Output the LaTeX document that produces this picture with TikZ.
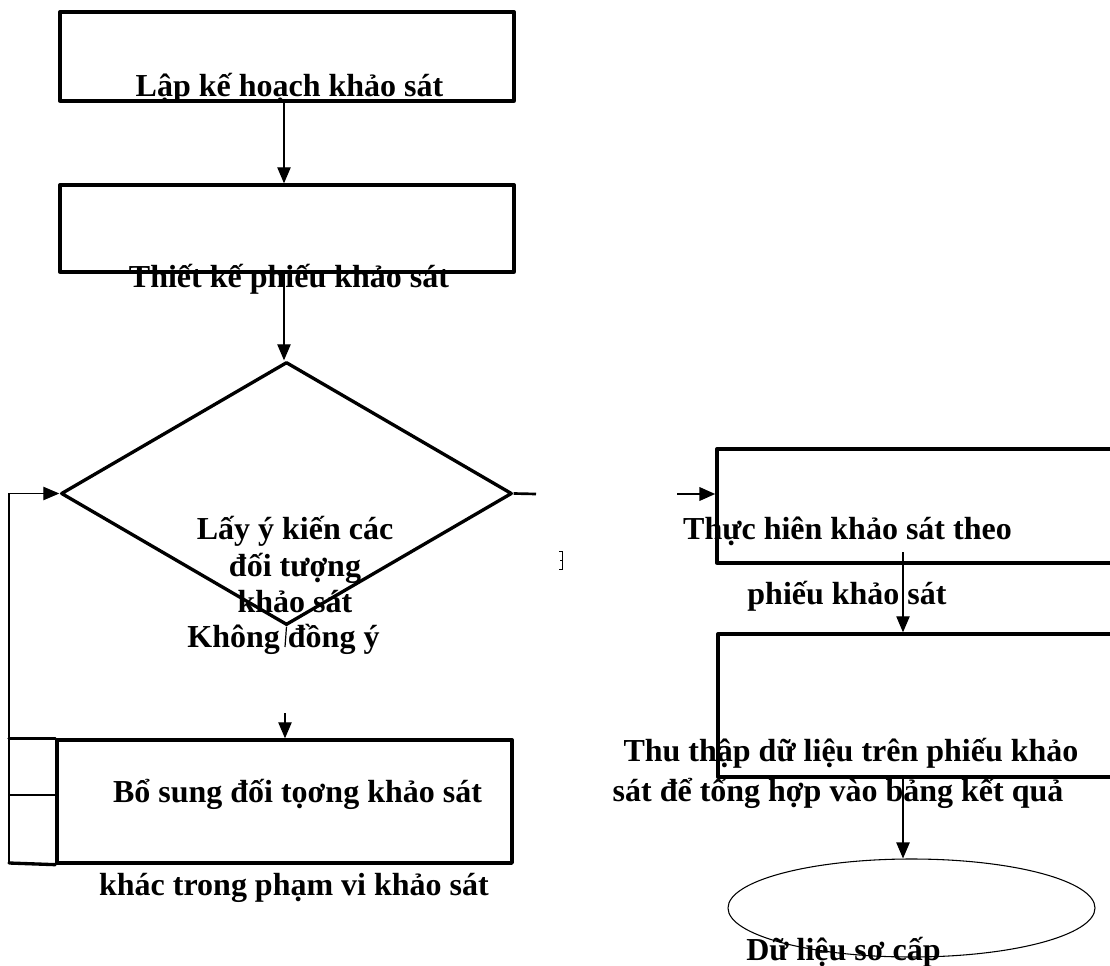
\documentclass[tikz,border=0pt]{standalone}
\usepackage{fontspec}
\setmainfont{Liberation Serif}
\usetikzlibrary{shapes.geometric,arrows.meta}

\begin{document}
\begin{tikzpicture}[x=0.75pt,y=0.75pt,yscale=-1,xscale=1,
  stepbox/.style={draw, line width=2.5pt, line join=round, inner sep=0pt},
  heavy/.style={line width=2.5pt, line cap=round},
  thinline/.style={line width=0.9pt},
  arr/.style={line width=0.9pt, -{Triangle[length=12pt,width=10pt]}},
  lbl/.style={anchor=base, inner sep=0pt, font=\fontsize{24pt}{28pt}\selectfont\bfseries}]
  \useasboundingbox (0,0) rectangle (1110,966);

  % Text Node
  \node[lbl] (plantxt) at (289.5,97) {Lập kế hoạch khảo sát};
  % Text Node
  \node[lbl] (designtxt) at (289,288) {Thiết kế phiếu khảo sát};
  % Text Node
  \node[lbl] (asktxta) at (295,539) {Lấy ý kiến các};
  \node[lbl] (asktxtb) at (295,576) {đối tượng};
  \node[lbl] (asktxtc) at (295,612) {khảo sát};
  % Text Node
  \node[lbl] (notxt) at (283.5,647) {Không đồng ý};
  % Text Node
  \node[lbl] (extratxta) at (297.5,802) {Bổ sung đối tọơng khảo sát};
  \node[lbl] (extratxtb) at (294,895) {khác trong phạm vi khảo sát};
  % Text Node
  \node[lbl] (surveytxta) at (847.5,539) {Thực hiên khảo sát theo};
  \node[lbl] (surveytxtb) at (847,604) {phiếu khảo sát};
  % Text Node
  \node[lbl] (collecttxta) at (851,761) {Thu thập dữ liệu trên phiếu khảo};
  \node[lbl] (collecttxtb) at (838,801) {sát để tổng hợp vào bảng kết quả};
  % Text Node
  \node[lbl] (datatxt) at (843.5,960) {Dữ liệu sơ cấp};

  %Shape: Rectangle
  \node[stepbox, minimum width=340.5pt, minimum height=66.75pt] (plan) at (287,56.5) {};
  %Shape: Rectangle
  \node[stepbox, minimum width=340.5pt, minimum height=65.25pt] (design) at (287,228.5) {};
  %Shape: Diamond
  \node[stepbox, diamond, minimum width=338.25pt, minimum height=197.25pt] (ask) at (286.5,493.5) {};
  %Shape: Rectangle
  \node[stepbox, minimum width=341.25pt, minimum height=92.25pt] (extra) at (284.5,801.5) {};
  %Shape: Rectangle
  \node[stepbox, minimum width=306pt, minimum height=85.5pt] (survey) at (921,506) {};
  %Shape: Rectangle
  \node[stepbox, minimum width=305.25pt, minimum height=107.25pt] (collect) at (921.5,705.5) {};
  %Shape: Ellipse
  \node[draw, ellipse, line width=0.8pt, inner sep=0pt, minimum width=275.25pt, minimum height=73.5pt] (data) at (911.5,908) {};

  %Straight Lines
  \coordinate (loop) at (9,863);
  \coordinate (mid) at (9,795);
  \draw[heavy] (extra.north west) -- (extra.north west -| loop);
  \draw[heavy] (extra.south west) -- (loop);
  \draw[thinline] (mid) -- (mid -| extra.west);
  \draw[arr] (loop) |- (ask.west);

  %Straight Lines
  \coordinate (col) at (284,0);
  \draw[arr] (plan.south -| col) -- (design.north -| col);
  \draw[arr] (design.south -| col) -- (ask.north -| col);

  %Straight Lines
  \coordinate (nostub) at (285,647);
  \coordinate (noarr) at (285,713);
  \draw[thinline] (ask.south) -- (nostub);
  \draw[arr] (noarr) -- (noarr |- extra.north);

  %Straight Lines
  \coordinate (yesstub) at (536,494);
  \coordinate (yesarr) at (677,494);
  \draw[line width=2pt] (ask.east) -- (yesstub);
  \draw[arr, line width=2pt] (yesarr) -- (yesarr -| survey.west);
  \draw[line width=0.6pt] (559,551) -- (562,551) -- (562,569) -- (559,569);
  \draw[line width=0.6pt] (560,560) -- (562,560);

  %Straight Lines
  \coordinate (s1) at (903,552);
  \draw[arr] (s1) -- (s1 |- collect.north);
  \draw[arr] (collect.south -| s1) -- (s1 |- data.north);

\end{tikzpicture}
\end{document}
